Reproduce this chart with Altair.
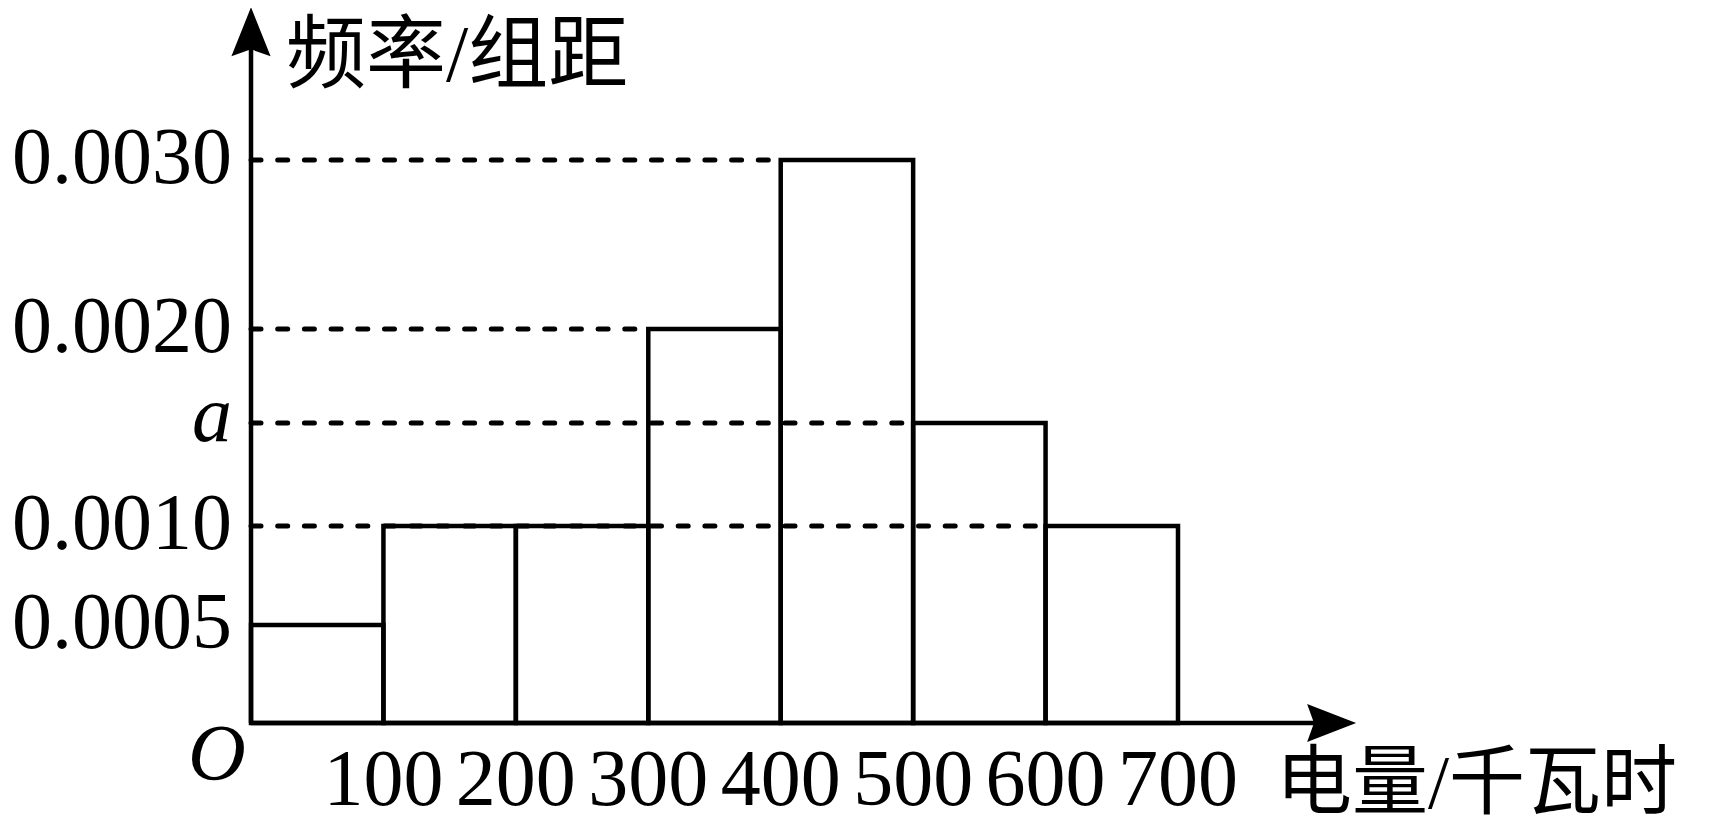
import altair as alt
import pandas as pd

# ---- data ----
bin_start = [0, 100, 200, 300, 400, 500, 600]
bin_end = [100, 200, 300, 400, 500, 600, 700]
density = [0.0005, 0.0010, 0.0010, 0.0020, 0.0030, 0.0015, 0.0010]

ytick_values = [0.0005, 0.0010, 0.0020, 0.0030]
ytick_labels = ["0.0005", "0.0010", "0.0020", "0.0030"]
a_value = [0.0015]
a_label = ["a"]

guide_values = [0.0010, 0.0015, 0.0020, 0.0030]
guide_ends = [600, 500, 300, 400]

xtick_values = [100, 200, 300, 400, 500, 600, 700]
xtick_labels = ["100", "200", "300", "400", "500", "600", "700"]

y_title = ["频率/组距"]
x_title = ["电量/千瓦时"]
origin_label = ["O"]

# axis extents (data units, beyond the last bin / top tick)
x_axis_end = 807
x_arrow_at = 816
y_axis_end = 0.00368
y_arrow_at = 0.003759

SERIF = "Liberation Serif, Times New Roman, serif"
CJK = "Liberation Serif, Noto Sans CJK SC"
FS = 80

xs = alt.Scale(domain=[0, 700], range=[243, 1170], nice=False, zero=False)
ys = alt.Scale(domain=[0, 0.0005, 0.001, 0.0015, 0.002, 0.003],
               range=[715, 617, 518, 415, 321, 152], nice=False, zero=False)


def X(f):
    return alt.X(f, type="quantitative", scale=xs, axis=None)


def Y(f):
    return alt.Y(f, type="quantitative", scale=ys, axis=None)


bars_df = pd.DataFrame({"x0": bin_start, "x1": bin_end, "y": density,
                        "y0": [0] * len(density)})
guides_df = pd.DataFrame({"y": guide_values, "x1": guide_ends,
                          "x0": [0] * len(guide_values)})
yt_df = pd.DataFrame({"y": ytick_values, "t": ytick_labels, "x": [0] * len(ytick_values)})
a_df = pd.DataFrame({"y": a_value, "t": a_label, "x": [0]})
xt_df = pd.DataFrame({"x": xtick_values, "t": xtick_labels, "y": [0] * len(xtick_values)})
xaxis_df = pd.DataFrame({"x0": [0], "x1": [x_axis_end], "y": [0]})
yaxis_df = pd.DataFrame({"y0": [0], "y1": [y_axis_end], "x": [0]})
xarrow_df = pd.DataFrame({"x": [x_arrow_at], "y": [0]})
yarrow_df = pd.DataFrame({"x": [0], "y": [y_arrow_at]})
o_df = pd.DataFrame({"x": [0], "y": [0], "t": origin_label})
yt_title_df = pd.DataFrame({"t": y_title})
xt_title_df = pd.DataFrame({"t": x_title})

guides = alt.Chart(guides_df).mark_rule(
    stroke="black", strokeWidth=5, strokeDash=[10, 16.7], strokeCap="round"
).encode(x=X("x0"), x2="x1", y=Y("y"))

bars = alt.Chart(bars_df).mark_rect(
    fill="white", fillOpacity=0, stroke="black", strokeWidth=4.5
).encode(x=X("x0"), x2="x1", y=Y("y"), y2="y0")

xaxis = alt.Chart(xaxis_df).mark_rule(stroke="black", strokeWidth=4.5).encode(
    x=X("x0"), x2="x1", y=Y("y"))
yaxis = alt.Chart(yaxis_df).mark_rule(stroke="black", strokeWidth=4.5).encode(
    x=X("x"), y=Y("y0"), y2="y1")

arrow_up = "M0,-1 L0.8,1 L0,0.72 L-0.8,1 Z"
arrow_right = "M1,0 L-1,0.78 L-0.72,0 L-1,-0.78 Z"

xarrow = alt.Chart(xarrow_df).mark_point(
    shape=arrow_right, size=2401, filled=True, fill="black", opacity=1, strokeWidth=0
).encode(x=X("x"), y=Y("y"))
yarrow = alt.Chart(yarrow_df).mark_point(
    shape=arrow_up, size=2401, filled=True, fill="black", opacity=1, strokeWidth=0
).encode(x=X("x"), y=Y("y"))

ylabels = alt.Chart(yt_df).mark_text(
    align="right", baseline="alphabetic", dx=-19, dy=23, font=SERIF, fontSize=FS, color="black"
).encode(x=X("x"), y=Y("y"), text="t:N")

alabel = alt.Chart(a_df).mark_text(
    align="right", baseline="alphabetic", dx=-19, dy=18, font=SERIF, fontSize=FS,
    fontStyle="italic", color="black"
).encode(x=X("x"), y=Y("y"), text="t:N")

xlabels = alt.Chart(xt_df).mark_text(
    align="center", baseline="alphabetic", dy=82, font=SERIF, fontSize=FS, color="black"
).encode(x=X("x"), y=Y("y"), text="t:N")

olabel = alt.Chart(o_df).mark_text(
    align="center", baseline="alphabetic", dx=-34, dy=57, font=SERIF, fontSize=FS,
    fontStyle="italic", color="black"
).encode(x=X("x"), y=Y("y"), text="t:N")

ytitle = alt.Chart(yt_title_df).mark_text(
    align="left", baseline="alphabetic", font=CJK, fontSize=FS, color="black"
).encode(x=alt.value(278), y=alt.value(73), text="t:N")

xtitle = alt.Chart(xt_title_df).mark_text(
    align="left", baseline="alphabetic", font=CJK, fontSize=76, color="black"
).encode(x=alt.value(1268), y=alt.value(800), text="t:N")

chart = alt.layer(
    guides, bars, xaxis, yaxis, xarrow, yarrow,
    ylabels, alabel, xlabels, olabel, ytitle, xtitle
).properties(
    width=1692, height=818, padding=0,
    autosize=alt.AutoSizeParams(type="none"),
    background="white",
).configure_view(strokeWidth=0)

chart.save("out.html", embed_options={"renderer": "svg", "actions": False})
